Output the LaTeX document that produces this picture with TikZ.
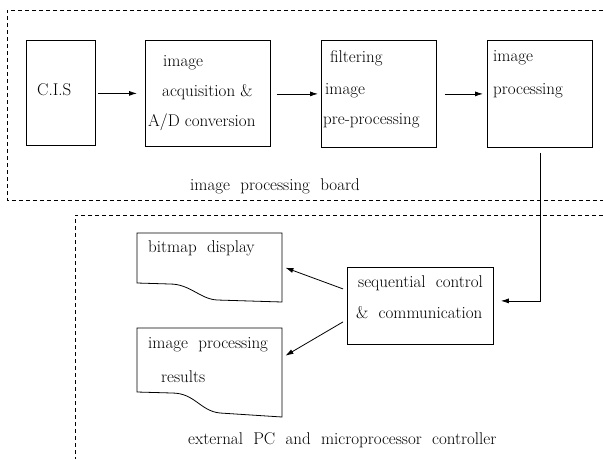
\documentclass[tikz,border=0pt]{standalone}
\usetikzlibrary{arrows.meta}
\begin{document}
\begin{tikzpicture}[x=1pt,y=-1pt,
  box/.style={draw,line width=0.8pt,anchor=north west,inner sep=0pt},
  ghost/.style={anchor=north west,inner sep=0pt},
  lbl/.style={anchor=west,inner sep=0pt,font=\fontsize{17}{20}\selectfont},
  frame/.style={dash pattern=on 4pt off 3pt,line width=0.7pt},
  conn/.style={line width=0.8pt,-{Latex[length=8pt,width=5pt]}}]
\useasboundingbox (0,0) rectangle (603,459);
% dashed frames
\draw[frame] (603,10) -- (7,10) -- (7,200) -- (603,200);
\draw[frame] (603,215) -- (75,215) -- (75,459);
% top boxes
\node[box,minimum width=69pt,minimum height=105pt] (cis) at (26,40) {};
\node[box,minimum width=125pt,minimum height=106pt] (acq) at (145,40) {};
\node[box,minimum width=115pt,minimum height=107pt] (filt) at (321,40) {};
\node[box,minimum width=105pt,minimum height=107pt] (proc) at (487,40) {};
\node[box,minimum width=146pt,minimum height=77pt] (seq) at (347,267) {};
\node[ghost,minimum width=145pt,minimum height=69pt] (bitmap) at (137,233) {};
\node[ghost,minimum width=145pt,minimum height=89pt] (results) at (137,328) {};
% document shapes
\draw[line width=0.8pt] (137,233) -- (282,233) -- (282,302) -- (217,300)
  .. controls (200,299) and (190,284) .. (170,284) -- (137,283) -- cycle;
\draw[line width=0.8pt] (137,328) -- (282,328) -- (282,417) -- (220,413)
  .. controls (200,411) and (195,393) .. (172,393) -- (137,392) -- cycle;
% texts
\node[lbl] (t1) at (37,90) {C.I.S};
\node[lbl] (t2) at (163,63) {image};
\node[lbl] (t3) at (162,92) {acquisition \&};
\node[lbl] (t4) at (148,122) {A/D conversion};
\node[lbl] (t5) at (330,58) {filtering};
\node[lbl] (t6) at (325,91) {image};
\node[lbl] (t7) at (323,121) {pre-processing};
\node[lbl] (t8) at (493,58) {image};
\node[lbl] (t9) at (493,91) {processing};
\node[lbl] (t10) at (190,186) {image\ \ processing\ \ board};
\node[lbl] (t11) at (358,283) {sequential\ \ control};
\node[lbl] (t12) at (356,313) {\&\ \ communication};
\node[lbl] (t13) at (148,248) {bitmap\ \ display};
\node[lbl] (t14) at (148,345) {image\ \ processing};
\node[lbl] (t15) at (161,377) {results};
\node[lbl] (t16) at (188,440) {external\ \ PC\ \ and\ \ microprocessor\ \ controller};
% connectors
\draw[conn,shorten <=2pt,shorten >=8pt] ([yshift=-0.5pt]cis.east) -- ([yshift=-0.5pt]cis.east -| acq.west);
\draw[conn,shorten <=6pt,shorten >=3pt] ([yshift=-0.5pt]acq.east) -- ([yshift=-0.5pt]acq.east -| filt.west);
\draw[conn,shorten <=8pt,shorten >=4pt] (filt.east) -- (proc.west);
\draw[conn,shorten <=5pt,shorten >=7pt] (proc.south) |- ([yshift=5pt]seq.east);
\draw[conn] ([xshift=-4pt,yshift=17pt]seq.west) -- ([xshift=3pt]bitmap.east);
\draw[conn] ([xshift=-4pt,yshift=-16pt]seq.west) -- ([xshift=3pt,yshift=17pt]results.east);
\end{tikzpicture}
\end{document}
